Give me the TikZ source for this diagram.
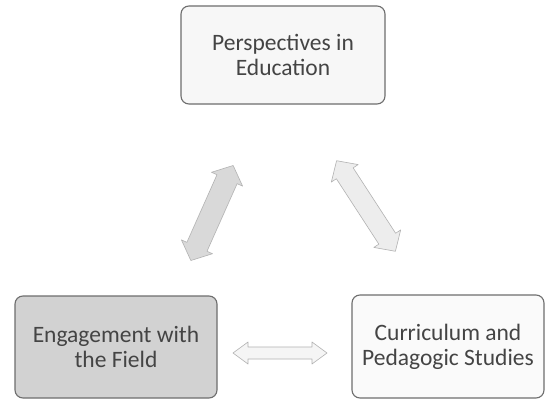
\documentclass[tikz,border=0pt]{standalone}
\usepackage{fontspec}
\setmainfont{Carlito}
\definecolor{txt}{HTML}{444444}
\definecolor{edge}{HTML}{6E6E6E}
\tikzset{
  box/.style={draw=edge, line width=1.1pt, rounded corners=8pt, align=center,
    text=txt, font=\fontsize{23.5}{25}\selectfont, inner sep=0pt},
  arr/.style={draw=gray!60, line width=0.6pt, line join=round}
}
\newcommand{\dblarr}[4]{\path[#1] (-#2,0) -- (-#2+15,#4) -- (-#2+15,#3) -- (#2-15,#3) -- (#2-15,#4) -- (#2,0) -- (#2-15,-#4) -- (#2-15,-#3) -- (-#2+15,-#3) -- (-#2+15,-#4) -- cycle;}
\begin{document}
\begin{tikzpicture}[x=1pt,y=1pt]
\useasboundingbox (0,0) rectangle (546,400);
\fill[white] (0,0) rectangle (546,400);
\node[box, fill=gray!6, minimum width=204pt, minimum height=98pt] (top) at (283,345) {Perspectives in\\Education};
\node[box, fill=gray!35, minimum width=202pt, minimum height=102pt] (bl) at (116,53) {Engagement with\\the Field};
\node[box, fill=gray!4, minimum width=192pt, minimum height=103pt] (br) at (448,53.5) {Curriculum and\\Pedagogic Studies};
\begin{scope}[shift={(212,187)}, rotate=66]
  \dblarr{arr, fill=gray!30}{52}{11}{17}
\end{scope}
\begin{scope}[shift={(366,194)}, rotate=-57]
  \dblarr{arr, fill=gray!14}{54}{10}{16}
\end{scope}
\begin{scope}[shift={(280,47)}]
  \dblarr{arr, fill=gray!8}{47}{6}{11}
\end{scope}
\end{tikzpicture}
\end{document}
